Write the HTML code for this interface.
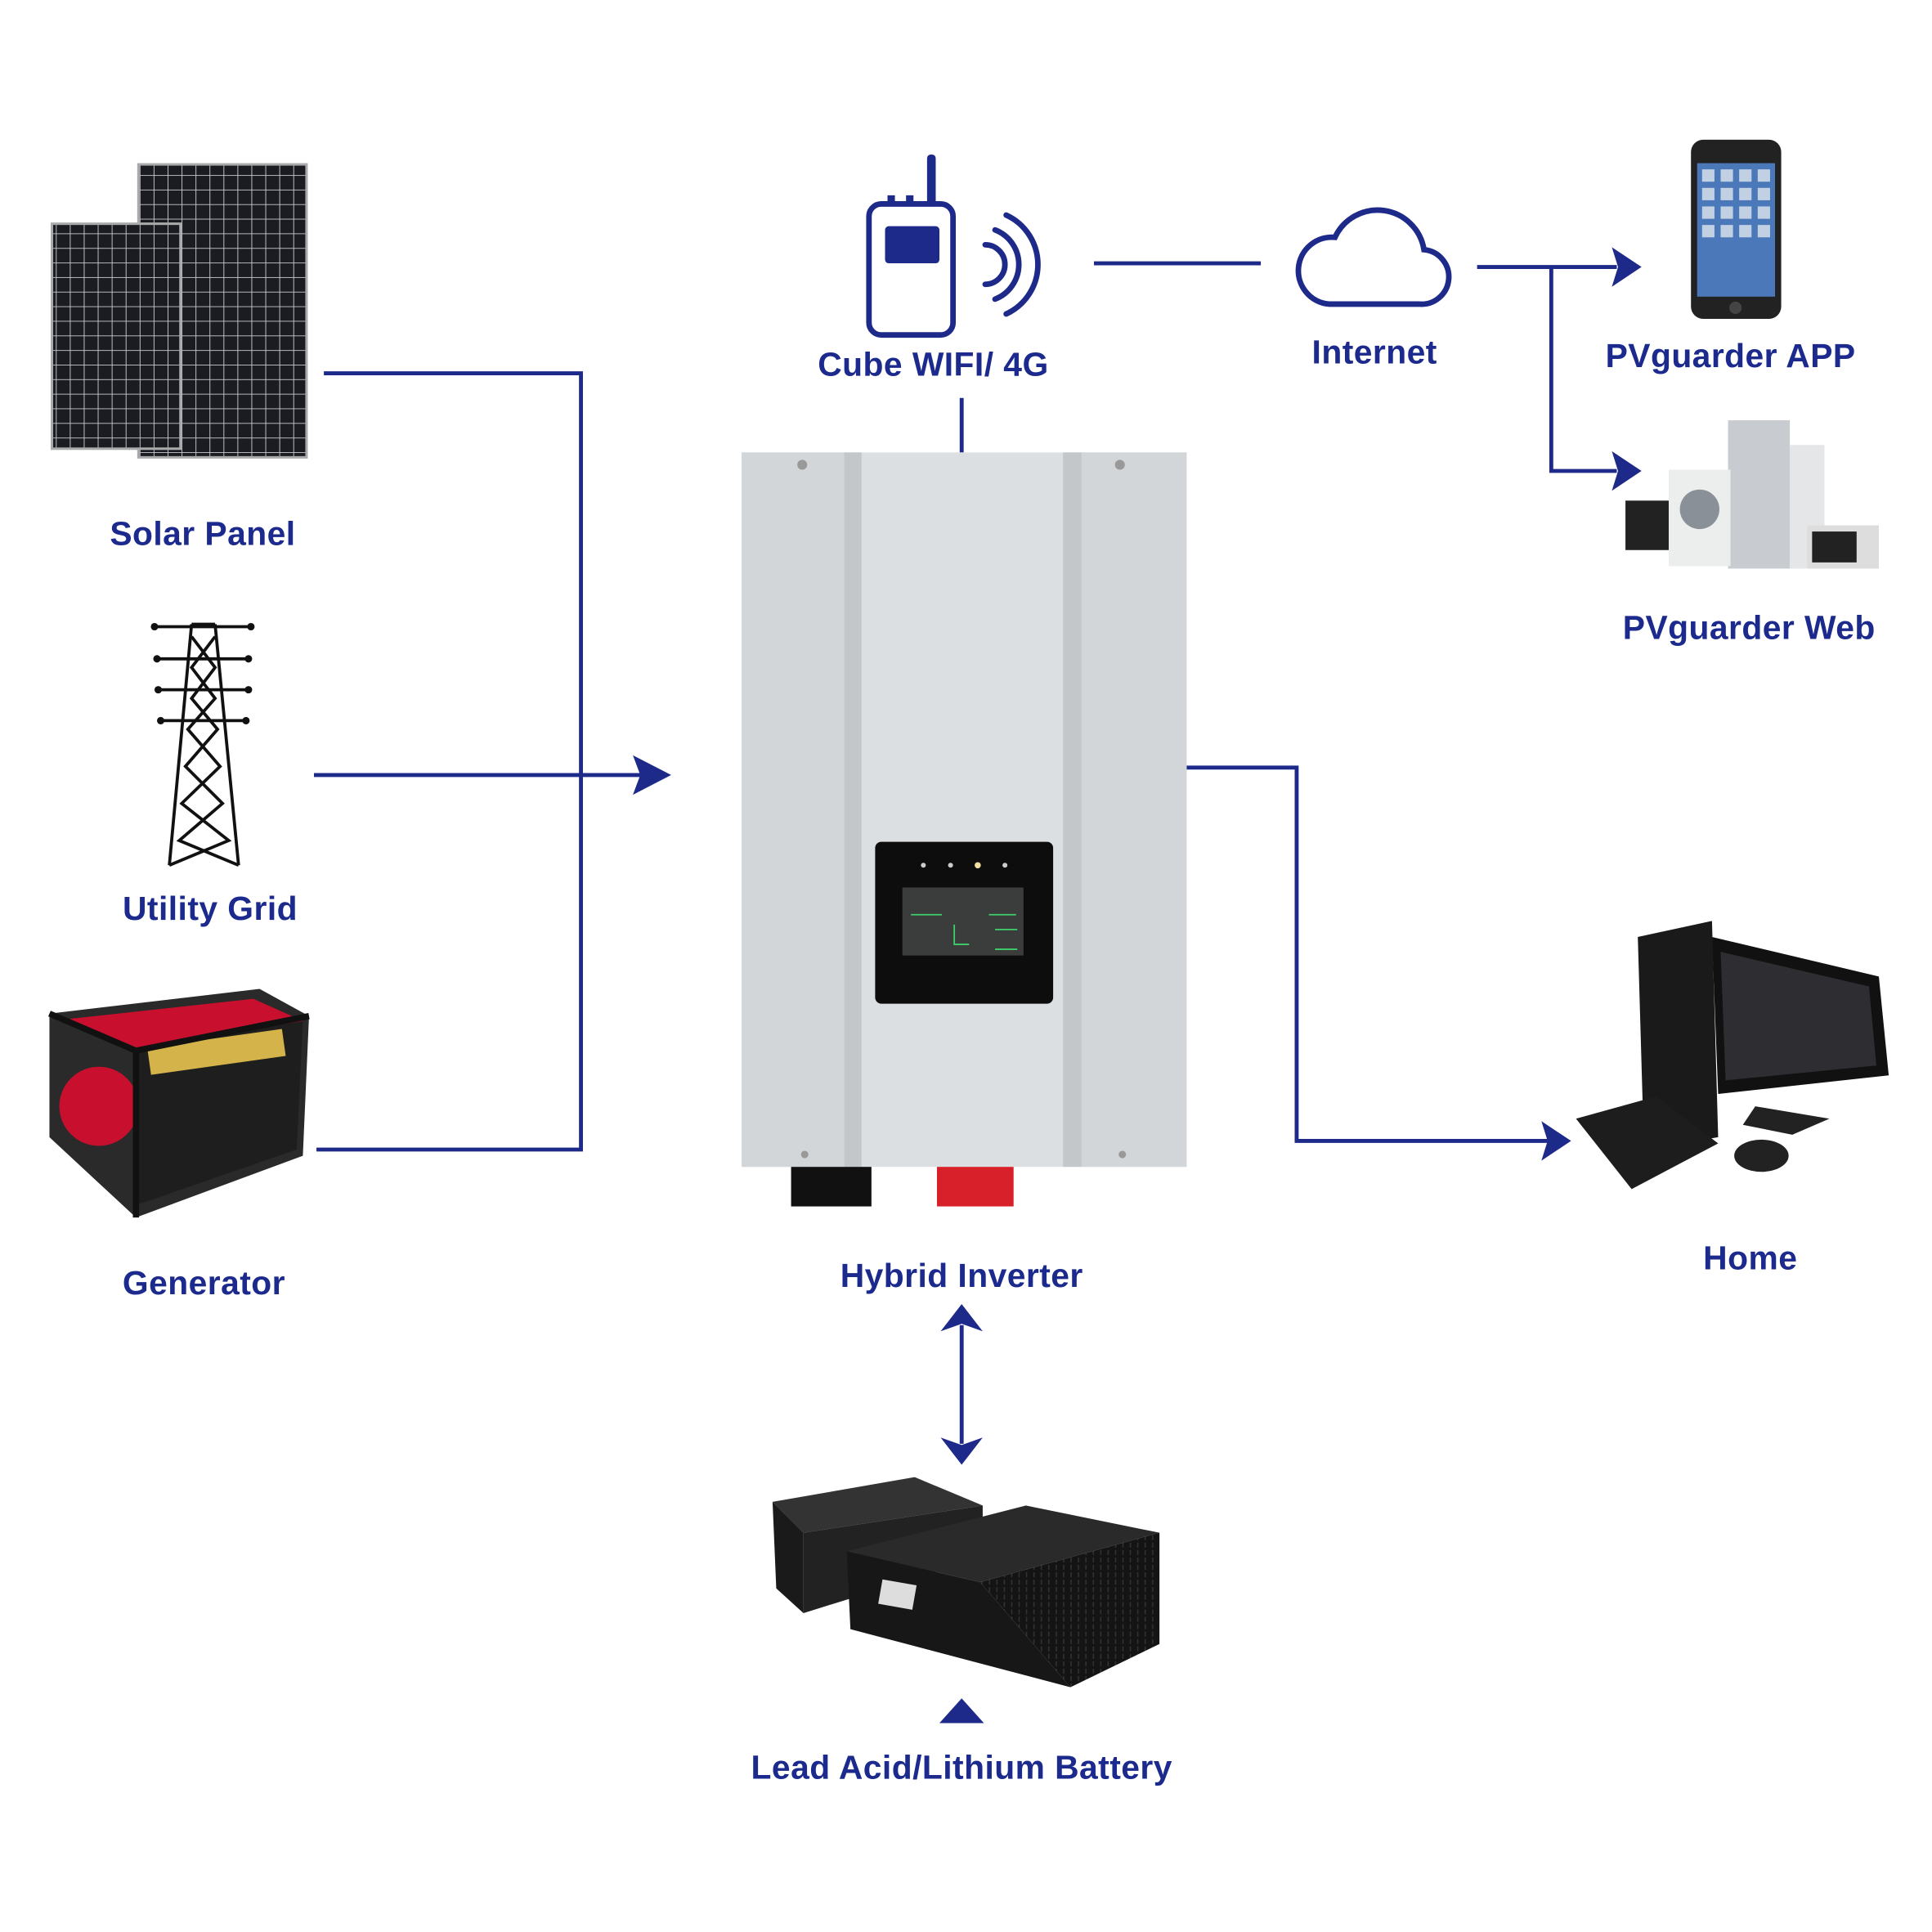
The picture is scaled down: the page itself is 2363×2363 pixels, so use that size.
<!DOCTYPE html>
<html><head><meta charset="utf-8"><style>
html,body{margin:0;padding:0;background:#fff;}
#w{width:1563px;height:1563px;position:relative;transform:scale(1.51184);transform-origin:0 0;}
svg{position:absolute;left:0;top:0;}
text{font-family:"Liberation Sans",sans-serif;font-weight:bold;font-size:27px;fill:#1b2a8c;letter-spacing:0.3px;text-anchor:middle;}
</style></head><body><div id="w">
<svg width="1563" height="1563" viewBox="0 0 1563 1563">
<defs>
<pattern id="cell" width="11.3" height="11.8" patternUnits="userSpaceOnUse"><rect width="11.3" height="11.8" fill="#1a1c22"/><path d="M0 0H11.3M0 0V11.8" stroke="#c9ccd4" stroke-width="1.2"/></pattern>
<pattern id="vent" width="6" height="6" patternUnits="userSpaceOnUse"><rect width="6" height="6" fill="#141414"/><rect x="2" y="0" width="1" height="4" fill="#333"/></pattern>
</defs>
<rect x="112" y="133" width="136" height="237" fill="url(#cell)" stroke="#aaa" stroke-width="2"/>
<rect x="42" y="181" width="104" height="182" fill="url(#cell)" stroke="#aaa" stroke-width="2"/>
<text x="164" y="441">Solar Panel</text>
<g stroke="#1e2a8a" stroke-width="3.2" fill="none">
<path d="M262 302H470V930H256"/>
<path d="M254 627H518"/>
<path d="M778 322V366"/>
<path d="M885 213H1020"/>
<path d="M1195 216H1308M1255 216V381H1308"/>
<path d="M958 621H1049V923H1252"/>
<path d="M778 1072V1168"/>
</g>
<g fill="#1e2a8a">
<path d="M543 627L512 611L518 627L512 643Z"/>
<path d="M1328 216L1304 200L1309 216L1304 232Z"/>
<path d="M1328 381L1304 365L1309 381L1304 397Z"/>
<path d="M1271 923L1247 907L1252 923L1247 939Z"/>
<path d="M778 1055L761 1077L778 1071L795 1077Z"/>
<path d="M778 1185L761 1163L778 1169L795 1163Z"/>
<path d="M778 1374L760 1394H796Z"/>
</g>
<g stroke="#111" stroke-width="2.5" fill="none">
<path d="M155 505L137 700M174 505L193 700M155 505H174"/>
<path d="M123 507H205M125 533H203M126 558H203M128 583H201"/>
<path d="M155 515L174 540L155 565L176 590L150 620L180 650L145 680L193 700M174 515L155 540L174 565L152 590L178 620L147 650L185 680L137 700"/>
</g>
<g fill="#111"><circle cx="125" cy="507" r="3"/><circle cx="203" cy="507" r="3"/><circle cx="127" cy="533" r="3"/><circle cx="201" cy="533" r="3"/><circle cx="128" cy="558" r="3"/><circle cx="201" cy="558" r="3"/><circle cx="130" cy="583" r="3"/><circle cx="199" cy="583" r="3"/></g>
<text x="170" y="744">Utility Grid</text>
<path d="M40 820L210 800L250 822L245 935L110 985L40 920Z" fill="#2a2a2a"/>
<path d="M50 825L205 808L245 826L110 850Z" fill="#c8102e"/>
<path d="M110 850L245 826L240 930L110 975Z" fill="#1e1e1e"/>
<rect x="120" y="840" width="110" height="22" fill="#d4b44a" transform="rotate(-8 175 850)"/>
<circle cx="80" cy="895" r="32" fill="#c8102e"/>
<path d="M40 820L110 850V985M110 850L250 822" stroke="#111" stroke-width="5" fill="none"/>
<text x="165" y="1047">Generator</text>
<rect x="600" y="366" width="360" height="578" fill="#dcdfe2"/>
<rect x="600" y="366" width="83" height="578" fill="#d3d6d9"/>
<rect x="683" y="366" width="14" height="578" fill="#c4c7ca"/>
<rect x="860" y="366" width="15" height="578" fill="#c4c7ca"/>
<rect x="875" y="366" width="85" height="578" fill="#d3d6d9"/>
<circle cx="649" cy="376" r="4" fill="#999"/><circle cx="906" cy="376" r="4" fill="#999"/><circle cx="651" cy="934" r="3" fill="#999"/><circle cx="908" cy="934" r="3" fill="#999"/>
<rect x="640" y="944" width="65" height="32" fill="#111"/>
<rect x="758" y="944" width="62" height="32" fill="#d8202a"/>
<rect x="708" y="681" width="144" height="131" rx="5" fill="#0d0d0d"/>
<rect x="730" y="718" width="98" height="55" fill="#3a3d3c"/>
<g fill="#ccc"><circle cx="747" cy="700" r="2"/><circle cx="769" cy="700" r="2"/><circle cx="791" cy="700" r="2.5" fill="#f0e0a0"/><circle cx="813" cy="700" r="2"/></g>
<g stroke="#3ecf6a" stroke-width="1.2" fill="none"><path d="M737 740h25M800 740h22M805 752h18M805 768h18M772 748v16h12"/></g>
<text x="778" y="1041">Hybrid Inverter</text>
<rect x="703" y="165" width="68" height="106" rx="10" fill="none" stroke="#1e2a8a" stroke-width="4.5"/>
<rect x="750" y="125" width="7" height="42" rx="3" fill="#1e2a8a"/>
<rect x="718" y="158" width="6" height="8" fill="#1e2a8a"/><rect x="733" y="158" width="6" height="8" fill="#1e2a8a"/>
<rect x="716" y="183" width="44" height="30" rx="3" fill="#1e2a8a"/>
<g stroke="#1e2a8a" stroke-width="4.5" fill="none" stroke-linecap="round"><path d="M797 198a16 16 0 0 1 0 32"/><path d="M805 186a30 30 0 0 1 0 56"/><path d="M814 174a44 44 0 0 1 0 80"/></g>
<text x="755" y="304">Cube WIFI/ 4G</text>
<path d="M1075 246H1148A22 22 0 0 0 1152 202A38 38 0 0 0 1080 192A27 27 0 0 0 1075 246Z" fill="none" stroke="#1e2a8a" stroke-width="4.5"/>
<text x="1112" y="294">Internet</text>
<rect x="1368" y="113" width="73" height="145" rx="10" fill="#222"/>
<rect x="1373" y="132" width="63" height="108" fill="#4a78b8"/>
<g fill="#e0e6f0" opacity=".8"><rect x="1377" y="137" width="10" height="10"/><rect x="1392" y="137" width="10" height="10"/><rect x="1407" y="137" width="10" height="10"/><rect x="1422" y="137" width="10" height="10"/><rect x="1377" y="152" width="10" height="10"/><rect x="1392" y="152" width="10" height="10"/><rect x="1407" y="152" width="10" height="10"/><rect x="1422" y="152" width="10" height="10"/><rect x="1377" y="167" width="10" height="10"/><rect x="1392" y="167" width="10" height="10"/><rect x="1407" y="167" width="10" height="10"/><rect x="1422" y="167" width="10" height="10"/><rect x="1377" y="182" width="10" height="10"/><rect x="1392" y="182" width="10" height="10"/><rect x="1407" y="182" width="10" height="10"/><rect x="1422" y="182" width="10" height="10"/></g>
<circle cx="1404" cy="249" r="5" fill="#444"/>
<text x="1400" y="297">PVguarder APP</text>
<rect x="1398" y="340" width="50" height="120" fill="#c8cbcf"/>
<rect x="1448" y="360" width="28" height="100" fill="#e4e6e8"/>
<rect x="1350" y="380" width="50" height="78" fill="#eceded"/>
<circle cx="1375" cy="412" r="16" fill="#8a9098"/>
<rect x="1315" y="405" width="35" height="40" fill="#222"/>
<rect x="1462" y="425" width="58" height="35" fill="#ddd"/><rect x="1466" y="430" width="36" height="25" fill="#222"/>
<text x="1415" y="517">PVguarder Web</text>
<path d="M1385 758L1520 790L1528 870L1390 885Z" fill="#111"/>
<path d="M1392 770L1512 798L1518 862L1396 874Z" fill="#2e2e32"/>
<path d="M1325 758L1385 745L1390 920L1330 930Z" fill="#1a1a1a"/>
<path d="M1420 895L1480 905L1450 918L1410 910Z" fill="#222"/>
<path d="M1275 905L1340 887L1390 925L1320 962Z" fill="#1d1d1d"/>
<ellipse cx="1425" cy="935" rx="22" ry="13" fill="#222"/>
<text x="1416" y="1027">Home</text>
<path d="M625 1215L740 1195L795 1218L650 1240Z" fill="#333"/>
<path d="M625 1215L650 1240V1305L628 1285Z" fill="#1a1a1a"/>
<path d="M650 1240L795 1218V1260L650 1305Z" fill="#222"/>
<path d="M685 1255L830 1218L938 1240L793 1280Z" fill="#2a2a2a"/>
<path d="M685 1255L793 1280L866 1365L688 1318Z" fill="#171717"/>
<path d="M793 1280L938 1240V1330L866 1365Z" fill="url(#vent)"/>
<rect x="712" y="1280" width="28" height="20" fill="#ddd" transform="rotate(10 726 1290)"/>
<text x="778" y="1439">Lead Acid/Lithium Battery</text>
</svg>
</div></body></html>
